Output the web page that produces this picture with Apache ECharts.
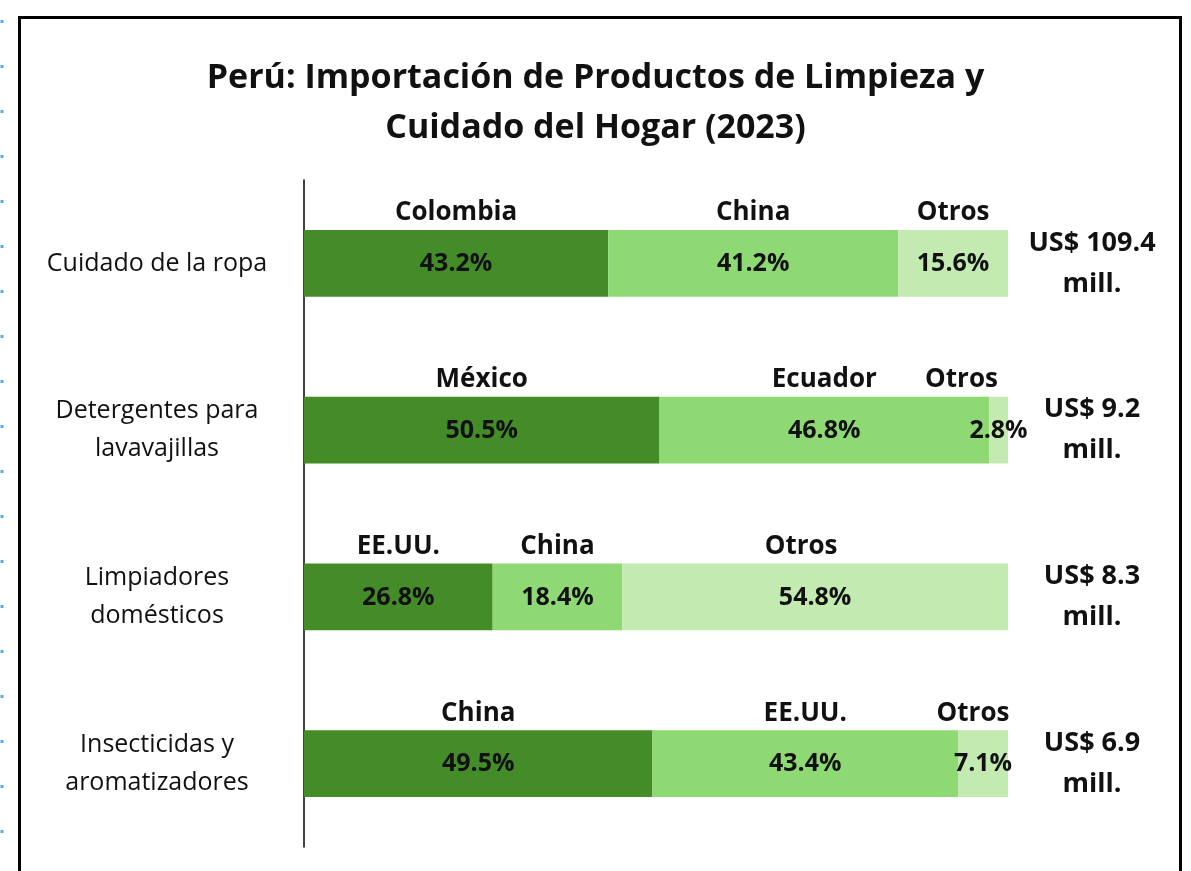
<!DOCTYPE html>
<html>
<head>
<meta charset="utf-8">
<script src="https://cdn.jsdelivr.net/npm/echarts@6/dist/echarts.min.js"></script>
<style>
  html, body { margin: 0; padding: 0; background: #fff; }
  #chart { width: 1191px; height: 871px; }
</style>
</head>
<body>
<div id="chart"></div>
<script>
const categories = ['Cuidado de la ropa', 'Detergentes para\nlavavajillas', 'Limpiadores\ndomésticos', 'Insecticidas y\naromatizadores'];
const firstCountry = ['Colombia', 'México', 'EE.UU.', 'China'];
const secondCountry = ['China', 'Ecuador', 'China', 'EE.UU.'];
const thirdCountry = ['Otros', 'Otros', 'Otros', 'Otros'];
const firstShare = [43.2, 50.5, 26.8, 49.5];
const secondShare = [41.2, 46.8, 18.4, 43.4];
const otrosShare = [15.6, 2.8, 54.8, 7.1];
const totals = ['109.4', '9.2', '8.3', '6.9'];

const font = '"Open Sans", Lato, sans-serif';
// names that sit a bit left of their segment (rich key per bar)
const otrosNameKey = ['n', 'nL', 'nM', 'nS'];

function segLabel(names, keys) {
  const name = { fontSize: 26, fontWeight: 'bold', color: '#111', lineHeight: 51, fontFamily: font };
  return {
    show: true,
    position: 'inside',
    offset: [0, -25],
    fontFamily: font,
    formatter: p => `{${keys ? keys[p.dataIndex] : 'n'}|${names[p.dataIndex]}}\n{p|${p.value.toFixed(1)}%}`,
    rich: {
      n: name,
      nL: Object.assign({}, name, { padding: [0, 74, 0, 0] }),
      nM: Object.assign({}, name, { padding: [0, 28, 0, 0] }),
      nS: Object.assign({}, name, { padding: [0, 20, 0, 0] }),
      p: Object.assign({}, name, { fontSize: 25 })
    }
  };
}

const chart = echarts.init(document.getElementById('chart'));
chart.setOption({
  backgroundColor: '#fff',
  animation: false,
  title: {
    text: 'Perú: Importación de Productos de Limpieza y\nCuidado del Hogar (2023)',
    left: 'center',
    top: 48,
    textStyle: { fontFamily: font, fontSize: 34, fontWeight: 'bold', color: '#111', lineHeight: 50 }
  },
  graphic: [
    { type: 'rect', shape: { x: 19.5, y: 17.5, width: 1161, height: 900 }, style: { fill: 'none', stroke: '#000', lineWidth: 3 } },
    { type: 'line', shape: { x1: 2, y1: 20, x2: 2, y2: 871 }, style: { stroke: '#5aaaf0', lineWidth: 3, lineDash: [3, 42] } }
  ],
  grid: { left: 304, right: 183, top: 180, bottom: 24 },
  xAxis: { type: 'value', min: 0, max: 100, show: false },
  yAxis: [
    {
      type: 'category',
      data: categories,
      inverse: true,
      axisLine: { show: true, lineStyle: { color: '#000', width: 1.5 } },
      axisTick: { show: false },
      axisLabel: { align: 'center', margin: 147, fontFamily: font, fontSize: 25, color: '#111', lineHeight: 38 }
    },
    {
      type: 'category',
      data: categories,
      inverse: true,
      position: 'right',
      axisLine: { show: false },
      axisTick: { show: false },
      axisLabel: {
        align: 'center', margin: 84, fontFamily: font, fontSize: 27, fontWeight: 'bold', color: '#111', lineHeight: 41,
        formatter: (v, i) => `US$ ${totals[i]}\nmill.`
      }
    }
  ],
  series: [
    { type: 'bar', stack: 'total', barWidth: '40%', data: firstShare, itemStyle: { color: '#438C28' }, label: segLabel(firstCountry) },
    { type: 'bar', stack: 'total', data: secondShare, itemStyle: { color: '#8ED974' }, label: segLabel(secondCountry) },
    { type: 'bar', stack: 'total', data: otrosShare, itemStyle: { color: '#C2EAB1' }, label: segLabel(thirdCountry, otrosNameKey) }
  ]
});
</script>
</body>
</html>
